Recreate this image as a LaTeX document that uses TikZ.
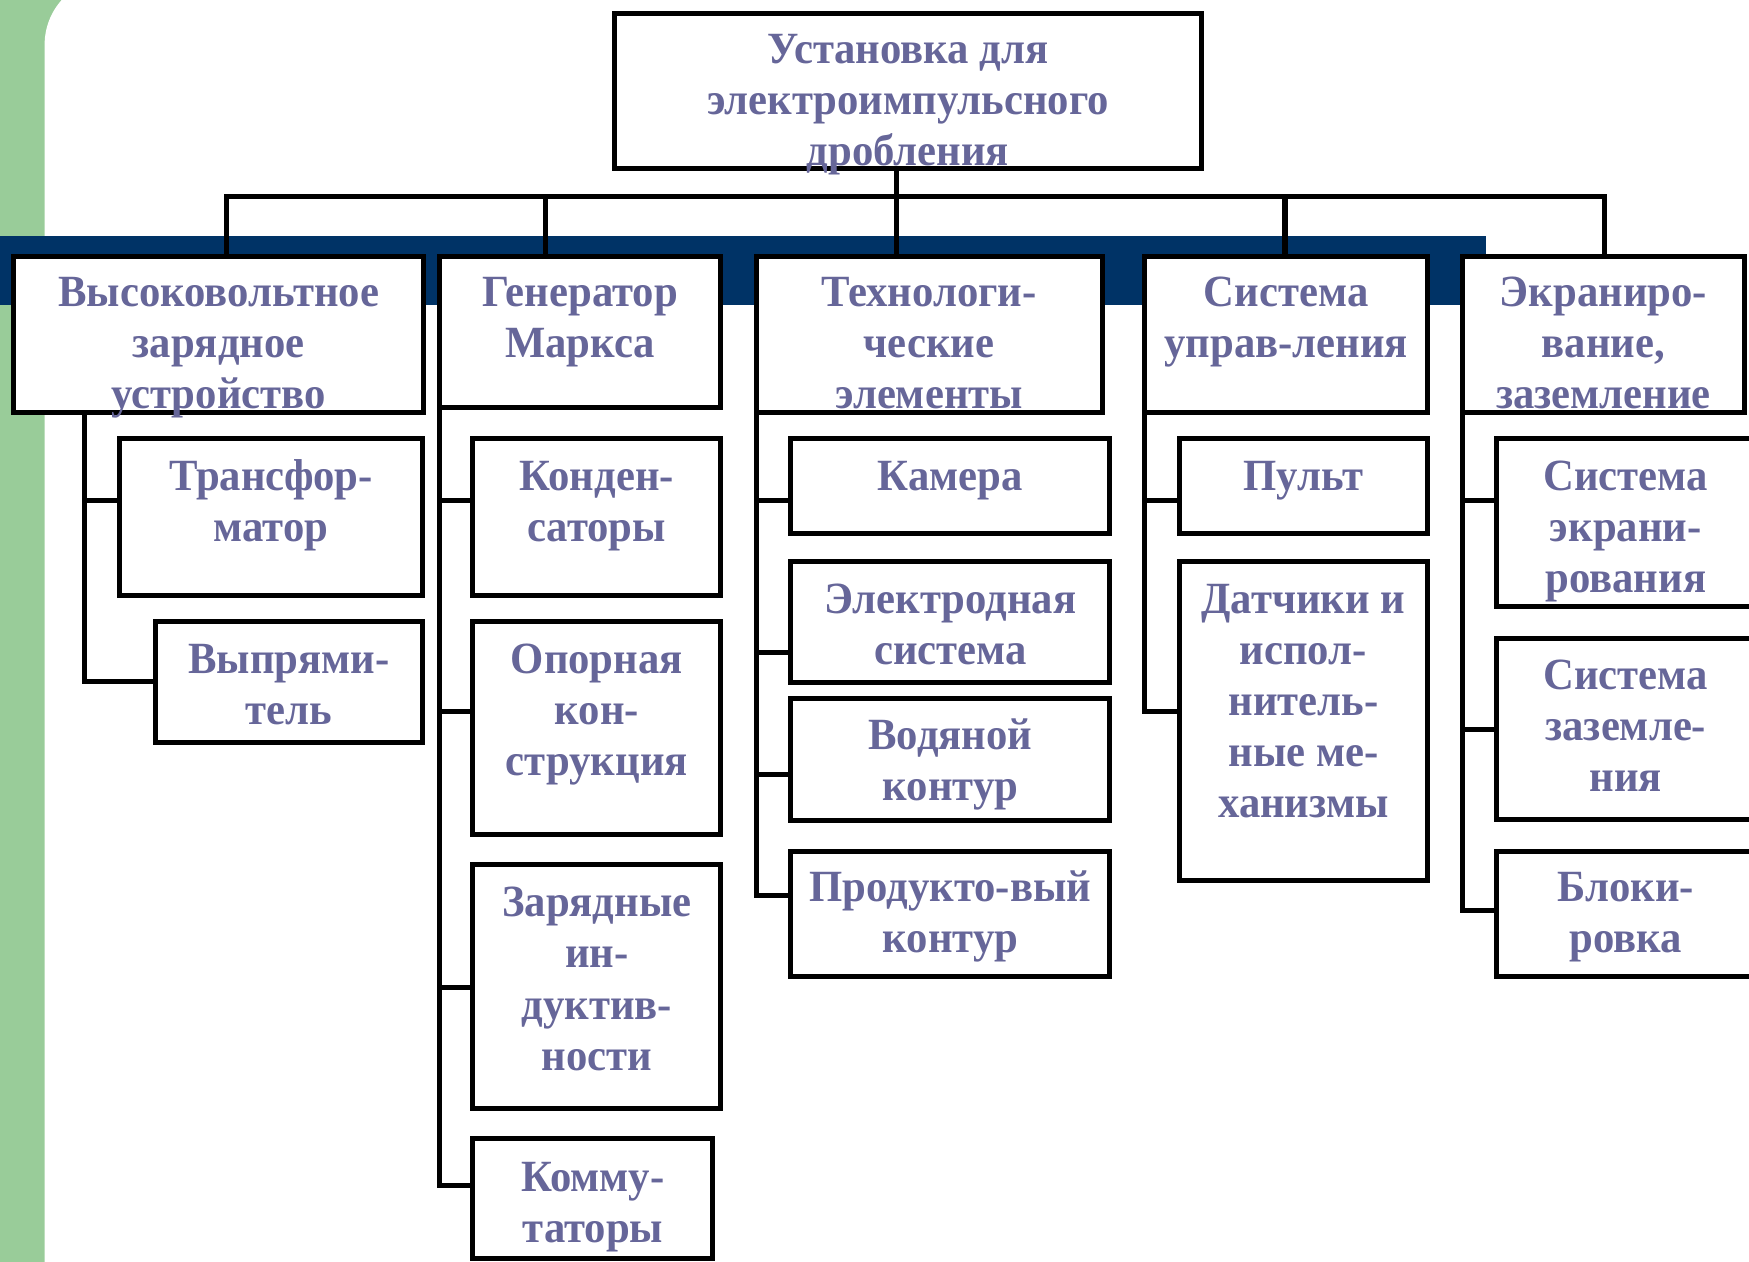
\documentclass[tikz,border=0pt]{standalone}
\usepackage{fontspec}
\setmainfont{Liberation Serif}[FakeStretch=0.957]
\usetikzlibrary{fit}
\definecolor{barGreen}{RGB}{153,204,153}
\definecolor{bandBlue}{RGB}{0,51,102}
\definecolor{labelInk}{RGB}{102,102,153}

\begin{document}
\begin{tikzpicture}[x=1pt,y=-1pt,
  box/.style={draw=black, line width=4.5pt, fill=white, inner sep=0pt, outer sep=0pt},
  wire/.style={draw=black, line width=4.5pt},
  caption/.style={anchor=base, text width=420pt, align=flush center, inner sep=0pt,
    text=labelInk, font=\bfseries\fontsize{40}{45.8}\selectfont}
]
\useasboundingbox (0,0) rectangle (1568,1131);
\clip (0,0) rectangle (1568,1131);

% background: green strip, white sheet with a rounded corner, dark band
\fill[barGreen] (0,0) rectangle (1568,1131);
\fill[white, rounded corners=60pt] (40,-20) rectangle (1700,1300);
\fill[bandBlue] (0,212) rectangle (1332,273);

% box outlines
\node[box, fit={(551,12) (1077,151)}] (root) {};
\node[box, fit={(12,230) (380,370)}] (n1) {};
\node[box, fit={(394,230) (646,365)}] (n2) {};
\node[box, fit={(678,230) (988,370)}] (n3) {};
\node[box, fit={(1026,230) (1280,370)}] (n4) {};
\node[box, fit={(1311,230) (1564,370)}] (n5) {};

\node[box, fit={(107,393) (379,534)}] (c11) {};
\node[box, fit={(139,557) (379,666)}] (c12) {};

\node[box, fit={(424,393) (646,534)}] (c21) {};
\node[box, fit={(424,557) (646,748)}] (c22) {};
\node[box, fit={(424,775) (646,994)}] (c23) {};
\node[box, fit={(424,1021) (639,1128)}] (c24) {};

\node[box, fit={(709,393) (995,478)}] (c31) {};
\node[box, fit={(709,503) (995,612)}] (c32) {};
\node[box, fit={(709,626) (995,736)}] (c33) {};
\node[box, fit={(709,763) (995,875)}] (c34) {};

\node[box, fit={(1057,393) (1280,478)}] (c41) {};
\node[box, fit={(1057,503) (1280,789)}] (c42) {};

\node[box, fit={(1342,393) (1573,544)}] (c51) {};
\node[box, fit={(1342,572) (1573,735)}] (c52) {};
\node[box, fit={(1342,763) (1573,875)}] (c53) {};

% top bus and drops
\coordinate (hub) at (804,176);
\coordinate (busL) at (203,176);
\coordinate (busR) at (1438,176);
\coordinate (drop2) at (489,176);
\coordinate (drop4) at (1152,176);
\draw[wire] (root.south -| hub) -- (n3.north -| hub);
\draw[wire] (n1.north -| busL) -- (busL) -- (busR) -- (n5.north -| busR);
\draw[wire] (drop2) -- (n2.north -| drop2);
\draw[wire] (drop4) -- (n4.north -| drop4);

% column trunks and branches
\coordinate (j11) at (76,449);
\coordinate (j12) at (76,611);
\draw[wire] (n1.south -| j12) -- (j12) -- (j12 -| c12.west);
\draw[wire] (j11) -- (j11 -| c11.west);

\coordinate (j21) at (394,449);
\coordinate (j22) at (394,638);
\coordinate (j23) at (394,885);
\coordinate (j24) at (394,1063);
\draw[wire] (n2.south west) -- (j24) -- (j24 -| c24.west);
\draw[wire] (j21) -- (j21 -| c21.west);
\draw[wire] (j22) -- (j22 -| c22.west);
\draw[wire] (j23) -- (j23 -| c23.west);

\coordinate (j31) at (678,449);
\coordinate (j32) at (678,585);
\coordinate (j33) at (678,694);
\coordinate (j34) at (678,803);
\draw[wire] (n3.south west) -- (j34) -- (j34 -| c34.west);
\draw[wire] (j31) -- (j31 -| c31.west);
\draw[wire] (j32) -- (j32 -| c32.west);
\draw[wire] (j33) -- (j33 -| c33.west);

\coordinate (j41) at (1026,449);
\coordinate (j42) at (1026,638);
\draw[wire] (n4.south west) -- (j42) -- (j42 -| c42.west);
\draw[wire] (j41) -- (j41 -| c41.west);

\coordinate (j51) at (1311,449);
\coordinate (j52) at (1311,654);
\coordinate (j53) at (1311,816);
\draw[wire] (n5.south west) -- (j53) -- (j53 -| c53.west);
\draw[wire] (j51) -- (j51 -| c51.west);
\draw[wire] (j52) -- (j52 -| c52.west);

% captions
\node[caption] (root-t) at ([yshift=-45pt]root.north) {Установка для\\электроимпульсного\\дробления};
\node[caption] (n1-t) at ([yshift=-45pt]n1.north) {Высоковольтное\\зарядное\\устройство};
\node[caption] (n2-t) at ([yshift=-45pt]n2.north) {Генератор\\Маркса};
\node[caption] (n3-t) at ([yshift=-45pt]n3.north) {Технологи-\\ческие\\элементы};
\node[caption] (n4-t) at ([yshift=-45pt]n4.north) {Система\\управ-ления};
\node[caption] (n5-t) at ([yshift=-45pt]n5.north) {Экраниро-\\вание,\\заземление};

\node[caption] (c11-t) at ([yshift=-47pt]c11.north) {Трансфор-\\матор};
\node[caption] (c12-t) at ([yshift=-47pt]c12.north) {Выпрями-\\тель};
\node[caption] (c21-t) at ([yshift=-47pt]c21.north) {Конден-\\саторы};
\node[caption] (c22-t) at ([yshift=-47pt]c22.north) {Опорная\\кон-\\струкция};
\node[caption] (c23-t) at ([yshift=-47pt]c23.north) {Зарядные\\ин-\\дуктив-\\ности};
\node[caption] (c24-t) at ([yshift=-47pt]c24.north) {Комму-\\таторы};
\node[caption] (c31-t) at ([yshift=-47pt]c31.north) {Камера};
\node[caption] (c32-t) at ([yshift=-47pt]c32.north) {Электродная\\система};
\node[caption] (c33-t) at ([yshift=-46pt]c33.north) {Водяной\\контур};
\node[caption] (c34-t) at ([yshift=-45pt]c34.north) {Продукто-вый\\контур};
\node[caption] (c41-t) at ([yshift=-47pt]c41.north) {Пульт};
\node[caption] (c42-t) at ([yshift=-47pt]c42.north) {Датчики и\\испол-\\нитель-\\ные ме-\\ханизмы};
\node[caption] (c51-t) at ([yshift=-47pt]c51.north) {Система\\экрани-\\рования};
\node[caption] (c52-t) at ([yshift=-46pt]c52.north) {Система\\заземле-\\ния};
\node[caption] (c53-t) at ([yshift=-45pt]c53.north) {Блоки-\\ровка};
\end{tikzpicture}
\end{document}
